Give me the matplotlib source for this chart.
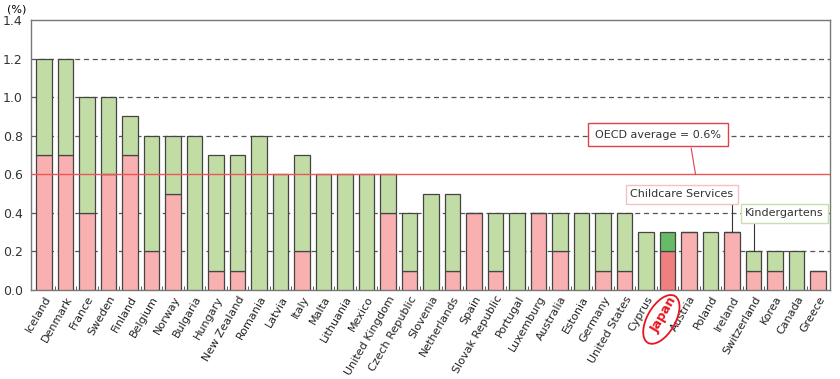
import numpy as np
import matplotlib
matplotlib.use("Agg")
import matplotlib.pyplot as plt
from matplotlib.patches import Ellipse
from matplotlib.transforms import IdentityTransform

# public spending on childcare / kindergartens, % of GDP
countries = ["Iceland", "Denmark", "France", "Sweden", "Finland", "Belgium", "Norway",
             "Bulgaria", "Hungary", "New Zealand", "Romania", "Latvia", "Italy", "Malta",
             "Lithuania", "Mexico", "United Kingdom", "Czech Republic", "Slovenia",
             "Netherlands", "Spain", "Slovak Republic", "Portugal", "Luxemburg", "Australia",
             "Estonia", "Germany", "United States", "Cyprus", "Japan", "Austria", "Poland",
             "Ireland", "Switzerland", "Korea", "Canada", "Greece"]
childcare = [0.7, 0.7, 0.4, 0.6, 0.7, 0.2, 0.5, 0.0, 0.1, 0.1, 0.0, 0.0, 0.2, 0.0,
             0.0, 0.0, 0.4, 0.1, 0.0, 0.1, 0.4, 0.1, 0.0, 0.4, 0.2, 0.0, 0.1, 0.1,
             0.0, 0.2, 0.3, 0.0, 0.3, 0.1, 0.1, 0.0, 0.1]
kindergarten = [0.5, 0.5, 0.6, 0.4, 0.2, 0.6, 0.3, 0.8, 0.6, 0.6, 0.8, 0.6, 0.5, 0.6,
                0.6, 0.6, 0.2, 0.3, 0.5, 0.4, 0.0, 0.3, 0.4, 0.0, 0.2, 0.4, 0.3, 0.3,
                0.3, 0.1, 0.0, 0.3, 0.0, 0.1, 0.1, 0.2, 0.0]
oecd_avg = 0.6

x = np.arange(len(countries))
jp = countries.index("Japan")
ire = countries.index("Ireland")
swi = countries.index("Switzerland")
pink = ["#f08080" if c == "Japan" else "#f8b0b0" for c in countries]
green = ["#66bb66" if c == "Japan" else "#c2dca6" for c in countries]

fig = plt.figure(figsize=(8.4, 3.79), dpi=100)
ax = fig.add_axes([0.037, 0.235, 0.951, 0.712])

ax.bar(x, childcare, width=0.72, color=pink, edgecolor="#444444", linewidth=0.9, zorder=3)
ax.bar(x, kindergarten, width=0.72, bottom=childcare, color=green,
       edgecolor="#444444", linewidth=0.9, zorder=3)

for g in [0.2, 0.4, 0.8, 1.0, 1.2]:
    ax.axhline(g, color="#555555", linestyle=(0, (4, 3)), linewidth=0.9, zorder=1)
ax.axhline(oecd_avg, color="#ee5555", linewidth=1.0, zorder=4)

ax.set_xlim(-0.6, len(countries) - 0.45)
ax.set_ylim(0, 1.4)
ax.set_yticks(np.arange(0, 1.41, 0.2))
ax.set_yticklabels([f"{v:.1f}" for v in np.arange(0, 1.41, 0.2)], fontsize=9, color="#333333")
ax.tick_params(axis="y", length=0, pad=6)

ax.set_xticks(x)
ax.set_xticklabels(countries, rotation=60, ha="right", rotation_mode="anchor",
                   fontsize=8, color="#222222")
ax.set_xticks(x[:-1] + 0.5, minor=True)
ax.tick_params(axis="x", which="major", length=0, pad=3)
ax.tick_params(axis="x", which="minor", direction="in", length=3, color="#444444")
for spine in ax.spines.values():
    spine.set_color("#777777")
    spine.set_linewidth(1.0)

lab = ax.get_xticklabels()[jp]
lab.set_color("#e8141e")
lab.set_fontweight("bold")
lab.set_fontsize(9)

fig.text(7 / 840, 1 - 10 / 379, "(%)", fontsize=8, ha="left", va="center")

# callout boxes and their leader lines
ax.plot([30.1, 30.3], [0.735, oecd_avg], color="#e04050", lw=0.8, zorder=5)
ax.text(28.56, 0.805, "OECD average = 0.6%", fontsize=8, ha="center", va="center",
        color="#333333", zorder=6,
        bbox=dict(boxstyle="square,pad=0.6", fc="white", ec="#e04050", lw=1.0))
ax.plot([ire, ire], [0.3, 0.45], color="#333333", lw=0.8, zorder=5)
ax.text(29.67, 0.496, "Childcare Services", fontsize=8, ha="center", va="center",
        color="#333333", zorder=6,
        bbox=dict(boxstyle="square,pad=0.4", fc="white", ec="#f4c0c0", lw=1.0))
ax.plot([swi, swi], [0.2, 0.35], color="#333333", lw=0.8, zorder=5)
ax.text(34.44, 0.397, "Kindergartens", fontsize=8, ha="center", va="center",
        color="#333333", zorder=6,
        bbox=dict(boxstyle="square,pad=0.4", fc="white", ec="#c8e0b0", lw=1.0))

# red ellipse around the Japan label
fig.canvas.draw()
bb = lab.get_window_extent()
cx, cy = (bb.x0 + bb.x1) / 2, (bb.y0 + bb.y1) / 2
fig.patches.append(Ellipse((cx - 2, cy - 5), 54, 28, angle=60, fill=False, ec="#e8141e",
                           lw=1.3, transform=IdentityTransform()))

fig.savefig("out.png", dpi=100)
